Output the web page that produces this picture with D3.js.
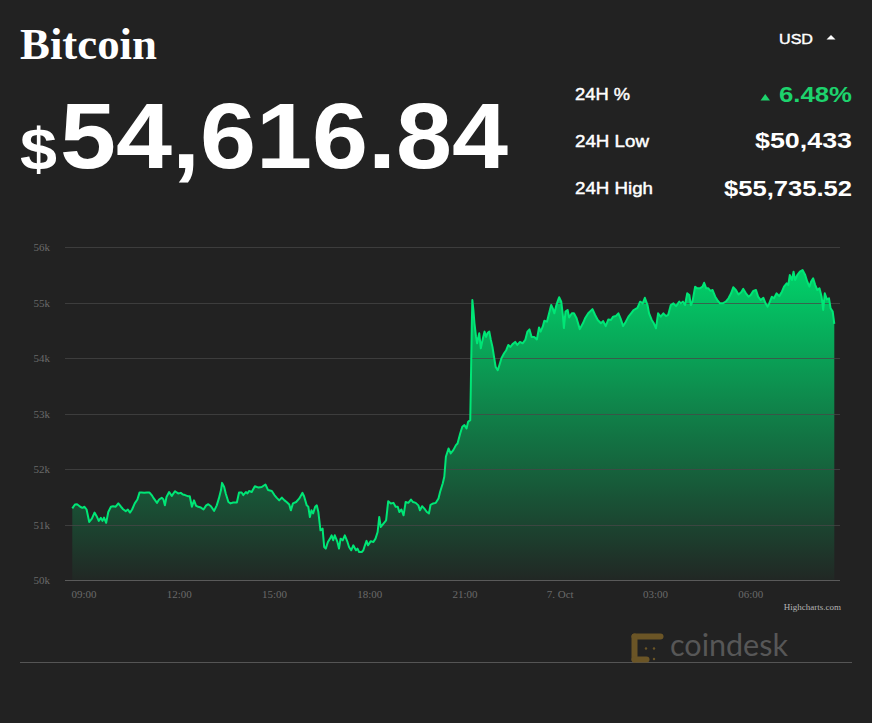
<!DOCTYPE html>
<html>
<head>
<meta charset="utf-8">
<script src="https://cdn.jsdelivr.net/npm/d3@7/dist/d3.min.js"></script>
<style>
  html, body { margin: 0; padding: 0; background: #222222; }
  svg { display: block; }
</style>
</head>
<body>
<svg id="chart" width="872" height="723"></svg>
<script>
// ---------- DATA ----------
const title = "Bitcoin";
const currentPrice = "54,616.84";
const currency = "USD";
const statLabels = ["24H %", "24H Low", "24H High"];
const statValues = ["6.48%", "$50,433", "$55,735.52"];

const startTime = "2021-10-06T08:38:00";
// minutes since startTime
const minutes = [0,5,9,15,19,23,27,32,37,42,46,50,54,57,60,64,68,73,77,82,87,92,96,101,105,109,113,118,123,127,131,136,141,146,150,154,160,164,169,172,175,178,183,188,194,200,205,209,213,218,222,226,230,234,238,243,248,253,257,262,268,273,277,281,283,287,290,295,299,304,311,315,320,323,328,331,334,339,345,352,358,365,370,377,382,386,391,396,401,405,410,413,417,423,429,435,438,443,446,449,452,455,459,462,465,469,473,476,479,483,487,490,493,496,501,504,507,511,515,520,523,527,531,536,539,542,547,550,553,556,559,564,569,573,577,580,583,588,593,597,602,607,611,615,618,622,626,630,635,640,644,649,654,657,661,665,670,674,677,682,687,692,695,700,703,706,711,715,720,725,728,733,737,741,745,748,752,753,755,756,758,760,763,765,769,772,776,779,782,785,788,791,794,797,800,804,807,811,816,820,824,828,832,837,841,846,851,856,860,864,868,873,878,882,885,889,892,897,901,905,908,911,914,917,920,924,927,929,932,936,939,944,948,953,959,965,969,975,983,988,993,999,1003,1008,1013,1018,1022,1027,1032,1036,1041,1046,1051,1056,1061,1068,1073,1078,1082,1087,1090,1095,1099,1103,1107,1112,1117,1122,1126,1131,1136,1141,1147,1150,1154,1158,1162,1166,1169,1172,1177,1181,1186,1191,1194,1198,1202,1206,1210,1215,1219,1224,1229,1235,1240,1245,1249,1254,1259,1264,1268,1273,1278,1282,1287,1292,1296,1301,1306,1310,1314,1317,1322,1326,1331,1336,1341,1345,1350,1353,1356,1360,1363,1366,1370,1375,1380,1385,1389,1393,1396,1400,1404,1408,1412,1416,1419,1422,1426,1430,1433,1437,1440];
const prices = [51290,51360,51365,51320,51300,51320,51270,51045,51105,51215,51150,51065,51120,51065,51125,51030,51225,51320,51330,51320,51380,51320,51275,51240,51270,51215,51270,51380,51450,51575,51575,51570,51575,51575,51530,51470,51390,51450,51480,51455,51345,51495,51585,51515,51600,51560,51570,51540,51530,51510,51510,51320,51435,51335,51320,51305,51270,51345,51365,51330,51245,51345,51470,51620,51750,51675,51560,51405,51380,51395,51395,51575,51575,51530,51585,51560,51605,51585,51690,51665,51675,51720,51620,51605,51530,51485,51435,51485,51435,51405,51360,51255,51380,51405,51470,51570,51510,51345,51320,51135,51255,51200,51320,51345,51225,50895,50925,50595,50565,50685,50745,50805,50715,50805,50685,50565,50745,50715,50805,50685,50595,50535,50625,50535,50565,50505,50505,50535,50625,50705,50625,50700,50685,50745,50865,51135,50955,51015,51075,51420,51380,51390,51320,51320,51225,51270,51165,51405,51390,51450,51405,51390,51345,51255,51330,51290,51225,51200,51355,51380,51390,51470,51585,51740,51860,52220,52370,52280,52340,52430,52460,52640,52760,52790,52730,52850,52880,53420,54625,55045,54865,54625,54380,54265,54445,54175,54355,54475,54380,54455,54475,54325,54200,54020,53840,53780,53870,53995,54085,54140,54235,54200,54250,54290,54235,54290,54265,54325,54475,54515,54380,54380,54335,54550,54475,54565,54670,54655,54805,54955,54895,54805,54925,55015,55095,55015,54775,54540,54835,54865,54730,54805,54805,54715,54520,54625,54715,54805,54880,54775,54685,54625,54665,54575,54695,54685,54745,54755,54805,54715,54575,54655,54745,54805,54865,54905,55015,54985,55085,54955,54805,54685,54625,54535,54805,54745,54805,54755,54775,54955,54985,54935,55015,54985,55015,54955,55165,55135,54955,55015,55285,55255,55255,55285,55355,55255,55255,55210,55225,55105,55045,54985,54985,55015,55075,55165,55275,55225,55145,55185,55245,55165,55105,55135,55210,55225,55105,55045,55085,54985,54925,54985,55105,55075,55165,55115,55195,55285,55345,55315,55495,55405,55555,55405,55495,55555,55585,55495,55375,55285,55375,55435,55315,55225,55255,55105,54865,55165,55055,55075,54895,54835,54617];

const yTicks = [50000, 51000, 52000, 53000, 54000, 55000, 56000];
const yTickLabels = ["50k", "51k", "52k", "53k", "54k", "55k", "56k"];
const xTickTimes = ["2021-10-06T09:00:00","2021-10-06T12:00:00","2021-10-06T15:00:00","2021-10-06T18:00:00","2021-10-06T21:00:00","2021-10-07T00:00:00","2021-10-07T03:00:00","2021-10-07T06:00:00"];
const xTickLabels = ["09:00", "12:00", "15:00", "18:00", "21:00", "7. Oct", "03:00", "06:00"];

// ---------- DRAW ----------
const svg = d3.select("#chart");
const t0 = new Date(startTime);
const data = minutes.map((m, i) => ({ t: new Date(t0.getTime() + m * 60000), p: prices[i] }));

const plot = { left: 72.3, right: 834.3, top: 247, bottom: 580, gridLeft: 65, gridRight: 840 };

const x = d3.scaleTime()
  .domain([t0, new Date(t0.getTime() + 1440 * 60000)])
  .range([plot.left, plot.right]);
const y = d3.scaleLinear()
  .domain([yTicks[0], yTicks[yTicks.length - 1]])
  .range([plot.bottom, plot.top]);

const sans = "'Liberation Sans', Arial, Helvetica, sans-serif";
const serif = "'Liberation Serif', 'Times New Roman', serif";

// Header
svg.append("text")
  .attr("x", 20).attr("y", 59)
  .attr("font-family", serif).attr("font-weight", "bold").attr("font-size", 44)
  .attr("fill", "#ffffff")
  .attr("textLength", 137).attr("lengthAdjust", "spacingAndGlyphs")
  .text(title);

svg.append("text")
  .attr("x", 20).attr("y", 170)
  .attr("font-family", sans).attr("font-weight", "bold").attr("font-size", 60)
  .attr("fill", "#ffffff")
  .attr("textLength", 37).attr("lengthAdjust", "spacingAndGlyphs")
  .text("$");
svg.append("text")
  .attr("x", 60).attr("y", 168)
  .attr("font-family", sans).attr("font-weight", "bold").attr("font-size", 93)
  .attr("fill", "#ffffff")
  .attr("textLength", 448).attr("lengthAdjust", "spacingAndGlyphs")
  .text(currentPrice);

// currency selector
svg.append("text")
  .attr("x", 779).attr("y", 43.5)
  .attr("font-family", sans).attr("font-size", 15.5)
  .attr("fill", "#ffffff").attr("stroke", "#ffffff").attr("stroke-width", 0.45)
  .attr("textLength", 34).attr("lengthAdjust", "spacingAndGlyphs")
  .text(currency);
svg.append("path")
  .attr("d", "M826.5,39.5 L835.5,39.5 L831,35 Z")
  .attr("fill", "#ffffff");

// stats
const labelBase = [100, 146.7, 194.3];
const valueBase = [101.7, 148.3, 196];
const labelWidths = [55, 74, 78];
const valueWidths = [73, 97, 128];
statLabels.forEach((s, i) => {
  svg.append("text")
    .attr("x", 575).attr("y", labelBase[i])
    .attr("font-family", sans).attr("font-size", 17)
    .attr("fill", "#ffffff").attr("stroke", "#ffffff").attr("stroke-width", 0.45)
    .attr("textLength", labelWidths[i]).attr("lengthAdjust", "spacingAndGlyphs")
    .text(s);
});
statValues.forEach((s, i) => {
  svg.append("text")
    .attr("x", 852).attr("y", valueBase[i])
    .attr("text-anchor", "end")
    .attr("font-family", sans).attr("font-weight", "bold").attr("font-size", 22)
    .attr("fill", i === 0 ? "#1dd36d" : "#ffffff")
    .attr("textLength", valueWidths[i]).attr("lengthAdjust", "spacingAndGlyphs")
    .text(s);
});
svg.append("path")
  .attr("d", "M760.5,100.5 L770,100.5 L765.25,94 Z")
  .attr("fill", "#1dd36d");

// gradient
const defs = svg.append("defs");
const grad = defs.append("linearGradient")
  .attr("id", "areaGrad")
  .attr("gradientUnits", "userSpaceOnUse")
  .attr("x1", 0).attr("x2", 0)
  .attr("y1", y(d3.max(prices))).attr("y2", y(yTicks[0]));
grad.append("stop").attr("offset", 0).attr("stop-color", "#00d26a").attr("stop-opacity", 1);
grad.append("stop").attr("offset", 0.5).attr("stop-color", "#00d26a").attr("stop-opacity", 0.5);
grad.append("stop").attr("offset", 1).attr("stop-color", "#00d26a").attr("stop-opacity", 0.03);

// area
const area = d3.area()
  .x(d => x(d.t))
  .y0(y(yTicks[0]))
  .y1(d => y(d.p));
svg.append("path")
  .datum(data)
  .attr("d", area)
  .attr("fill", "url(#areaGrad)");

// gridlines (above area, semi-transparent)
svg.append("g")
  .selectAll("line")
  .data(yTicks.slice(1))
  .join("line")
  .attr("x1", plot.gridLeft).attr("x2", plot.gridRight)
  .attr("y1", d => Math.round(y(d)) + 0.5).attr("y2", d => Math.round(y(d)) + 0.5)
  .attr("stroke", "#474747").attr("stroke-opacity", 0.75)
  .attr("stroke-width", 1);

// x axis line
svg.append("line")
  .attr("x1", plot.gridLeft).attr("x2", plot.gridRight)
  .attr("y1", Math.round(y(yTicks[0])) + 0.5).attr("y2", Math.round(y(yTicks[0])) + 0.5)
  .attr("stroke", "#5a5a5a").attr("stroke-width", 1);

// line
const line = d3.line()
  .x(d => x(d.t))
  .y(d => y(d.p));
svg.append("path")
  .datum(data)
  .attr("d", line)
  .attr("fill", "none")
  .attr("stroke", "#00e676")
  .attr("stroke-width", 2)
  .attr("stroke-linejoin", "round");

// y labels
svg.append("g")
  .selectAll("text")
  .data(yTicks)
  .join("text")
  .attr("x", 50)
  .attr("y", d => y(d) + 4)
  .attr("text-anchor", "end")
  .attr("font-family", serif).attr("font-size", 11)
  .attr("fill", "#6a6a6a")
  .text((d, i) => yTickLabels[i]);

// x labels
svg.append("g")
  .selectAll("text")
  .data(xTickTimes)
  .join("text")
  .attr("x", d => x(new Date(d)))
  .attr("y", 598)
  .attr("text-anchor", "middle")
  .attr("font-family", serif).attr("font-size", 11)
  .attr("fill", "#6a6a6a")
  .text((d, i) => xTickLabels[i]);

// credits
svg.append("text")
  .attr("x", 841).attr("y", 610)
  .attr("text-anchor", "end")
  .attr("font-family", serif).attr("font-size", 9)
  .attr("fill", "#b4b4b4")
  .text("Highcharts.com");

// bottom separator line
svg.append("line")
  .attr("x1", 20).attr("x2", 852)
  .attr("y1", 662.5).attr("y2", 662.5)
  .attr("stroke", "#555555").attr("stroke-width", 1);

// coindesk logo
const logo = svg.append("g").attr("fill", "#6b5526").attr("stroke", "#6b5526");
logo.append("line").attr("x1", 634.5).attr("x2", 660.5).attr("y1", 636.5).attr("y2", 636.5)
  .attr("stroke-width", 6).attr("stroke-linecap", "round");
logo.append("line").attr("x1", 634.5).attr("x2", 634.5).attr("y1", 636.5).attr("y2", 659.5)
  .attr("stroke-width", 6).attr("stroke-linecap", "round");
logo.append("line").attr("x1", 634.5).attr("x2", 646.5).attr("y1", 659.5).attr("y2", 659.5)
  .attr("stroke-width", 6).attr("stroke-linecap", "round");
logo.append("circle").attr("cx", 654).attr("cy", 648.5).attr("r", 1.2).attr("stroke", "none");
logo.append("circle").attr("cx", 654).attr("cy", 659).attr("r", 1.2).attr("stroke", "none");
logo.append("circle").attr("cx", 646).attr("cy", 648.5).attr("r", 1.2).attr("stroke", "none");

svg.append("text")
  .attr("x", 670).attr("y", 656)
  .attr("font-family", "Lato, 'Open Sans', sans-serif").attr("font-size", 30)
  .attr("fill", "#575757")
  .attr("textLength", 118).attr("lengthAdjust", "spacingAndGlyphs")
  .text("coindesk");
</script>
</body>
</html>
